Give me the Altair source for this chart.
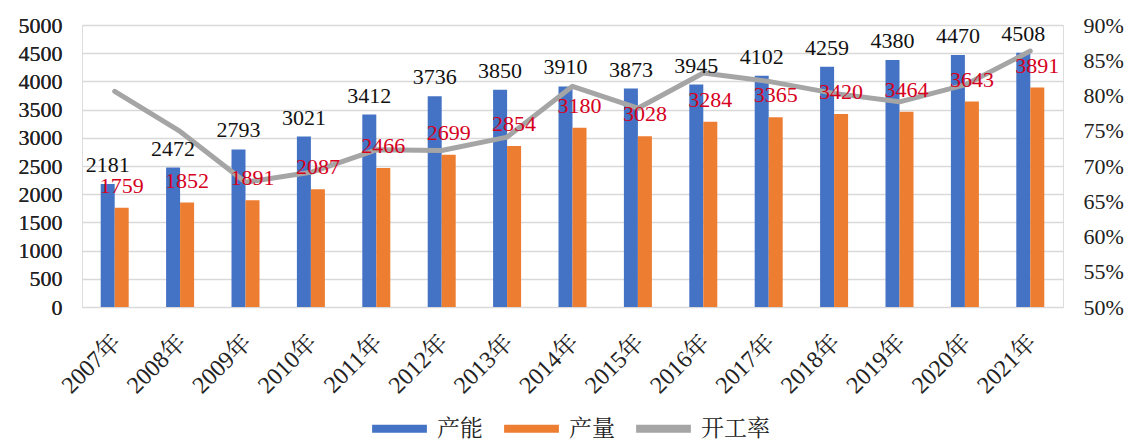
import altair as alt
import pandas as pd

years = ["2007年", "2008年", "2009年", "2010年", "2011年", "2012年", "2013年", "2014年",
         "2015年", "2016年", "2017年", "2018年", "2019年", "2020年", "2021年"]
capacity = [2181, 2472, 2793, 3021, 3412, 3736, 3850, 3910, 3873, 3945, 4102, 4259, 4380, 4470, 4508]
output = [1759, 1852, 1891, 2087, 2466, 2699, 2854, 3180, 3028, 3284, 3365, 3420, 3464, 3643, 3891]
utilization = [0.806, 0.749, 0.677, 0.691, 0.723, 0.722, 0.741, 0.813, 0.782, 0.832, 0.820, 0.803, 0.791, 0.815, 0.863]

df = pd.DataFrame({"year": years, "cap": capacity, "out": output, "rate": utilization})

FONT = "Liberation Serif, Noto Serif CJK SC, Noto Sans CJK SC"
BLUE = "#4472C4"
ORANGE = "#ED7D31"
GRAY = "#A5A5A5"
RED = "#D6001C"
INK = "#222222"

color_scale = alt.Scale(domain=["产能", "产量", "开工率"], range=[BLUE, ORANGE, GRAY])
legend = alt.Legend(
    title=None, orient="none", legendX=286, legendY=372, direction="horizontal",
    symbolType="stroke", symbolSize=3000, symbolStrokeWidth=8,
    labelFont=FONT, labelFontSize=23, labelColor=INK,
    columnPadding=5, labelOffset=6, padding=0,
)

xenc = alt.X("year:N", sort=years, title=None,
             scale=alt.Scale(paddingInner=0, paddingOuter=0),
             axis=alt.Axis(labelAngle=-45, labelFontSize=24, domain=False, ticks=False,
                           labelPadding=23, labelOffset=-6))

yaxis = alt.Axis(values=list(range(0, 5001, 500)), format="d", domain=False, ticks=False,
                 labelPadding=20, gridColor="#D9D9D9", gridWidth=1.5, title=None)
yscale = alt.Scale(domain=[0, 5000], nice=False)

base = alt.Chart(df)

blue = base.mark_bar(width=14, xOffset=-7).transform_calculate(s="'产能'").encode(
    x=xenc,
    y=alt.Y("cap:Q", scale=yscale, axis=yaxis),
    color=alt.Color("s:N", scale=color_scale, legend=legend),
)
orange = base.mark_bar(width=14, xOffset=7).transform_calculate(s="'产量'").encode(
    x=xenc,
    y=alt.Y("out:Q", scale=yscale, axis=yaxis),
    color=alt.Color("s:N", scale=color_scale, legend=legend),
)
tblue = base.mark_text(xOffset=-7, dy=-12, baseline="alphabetic", font=FONT, fontSize=22,
                       color="#111111").encode(
    x=xenc,
    y=alt.Y("cap:Q", scale=yscale, axis=yaxis),
    text=alt.Text("cap:Q"),
)
tred = base.mark_text(xOffset=7, dy=-15, baseline="alphabetic", font=FONT, fontSize=22,
                      color=RED).encode(
    x=xenc,
    y=alt.Y("out:Q", scale=yscale, axis=yaxis),
    text=alt.Text("out:Q"),
)

left = alt.layer(blue, orange)
labels = alt.layer(tblue, tred)

line = base.mark_line(strokeWidth=5, strokeCap="round", strokeJoin="round").transform_calculate(
    s="'开工率'").encode(
    x=xenc,
    y=alt.Y("rate:Q", scale=alt.Scale(domain=[0.5, 0.9], nice=False),
            axis=alt.Axis(orient="right", format=".0%",
                          values=[0.5, 0.55, 0.6, 0.65, 0.7, 0.75, 0.8, 0.85, 0.9],
                          domain=False, ticks=False, grid=False, labelPadding=20, title=None)),
    color=alt.Color("s:N", scale=color_scale, legend=legend),
)

chart = alt.layer(left, line, labels).resolve_scale(y="independent").properties(
    width=981, height=282,
    autosize=alt.AutoSizeParams(type="none"),
    padding={"left": 74, "top": 17, "right": 64, "bottom": 132},
).configure_view(stroke=None).configure(background="white").configure_axis(
    labelFont=FONT, labelFontSize=22, labelColor=INK
)

chart.save("out.html", embed_options={"renderer": "svg", "actions": False})
